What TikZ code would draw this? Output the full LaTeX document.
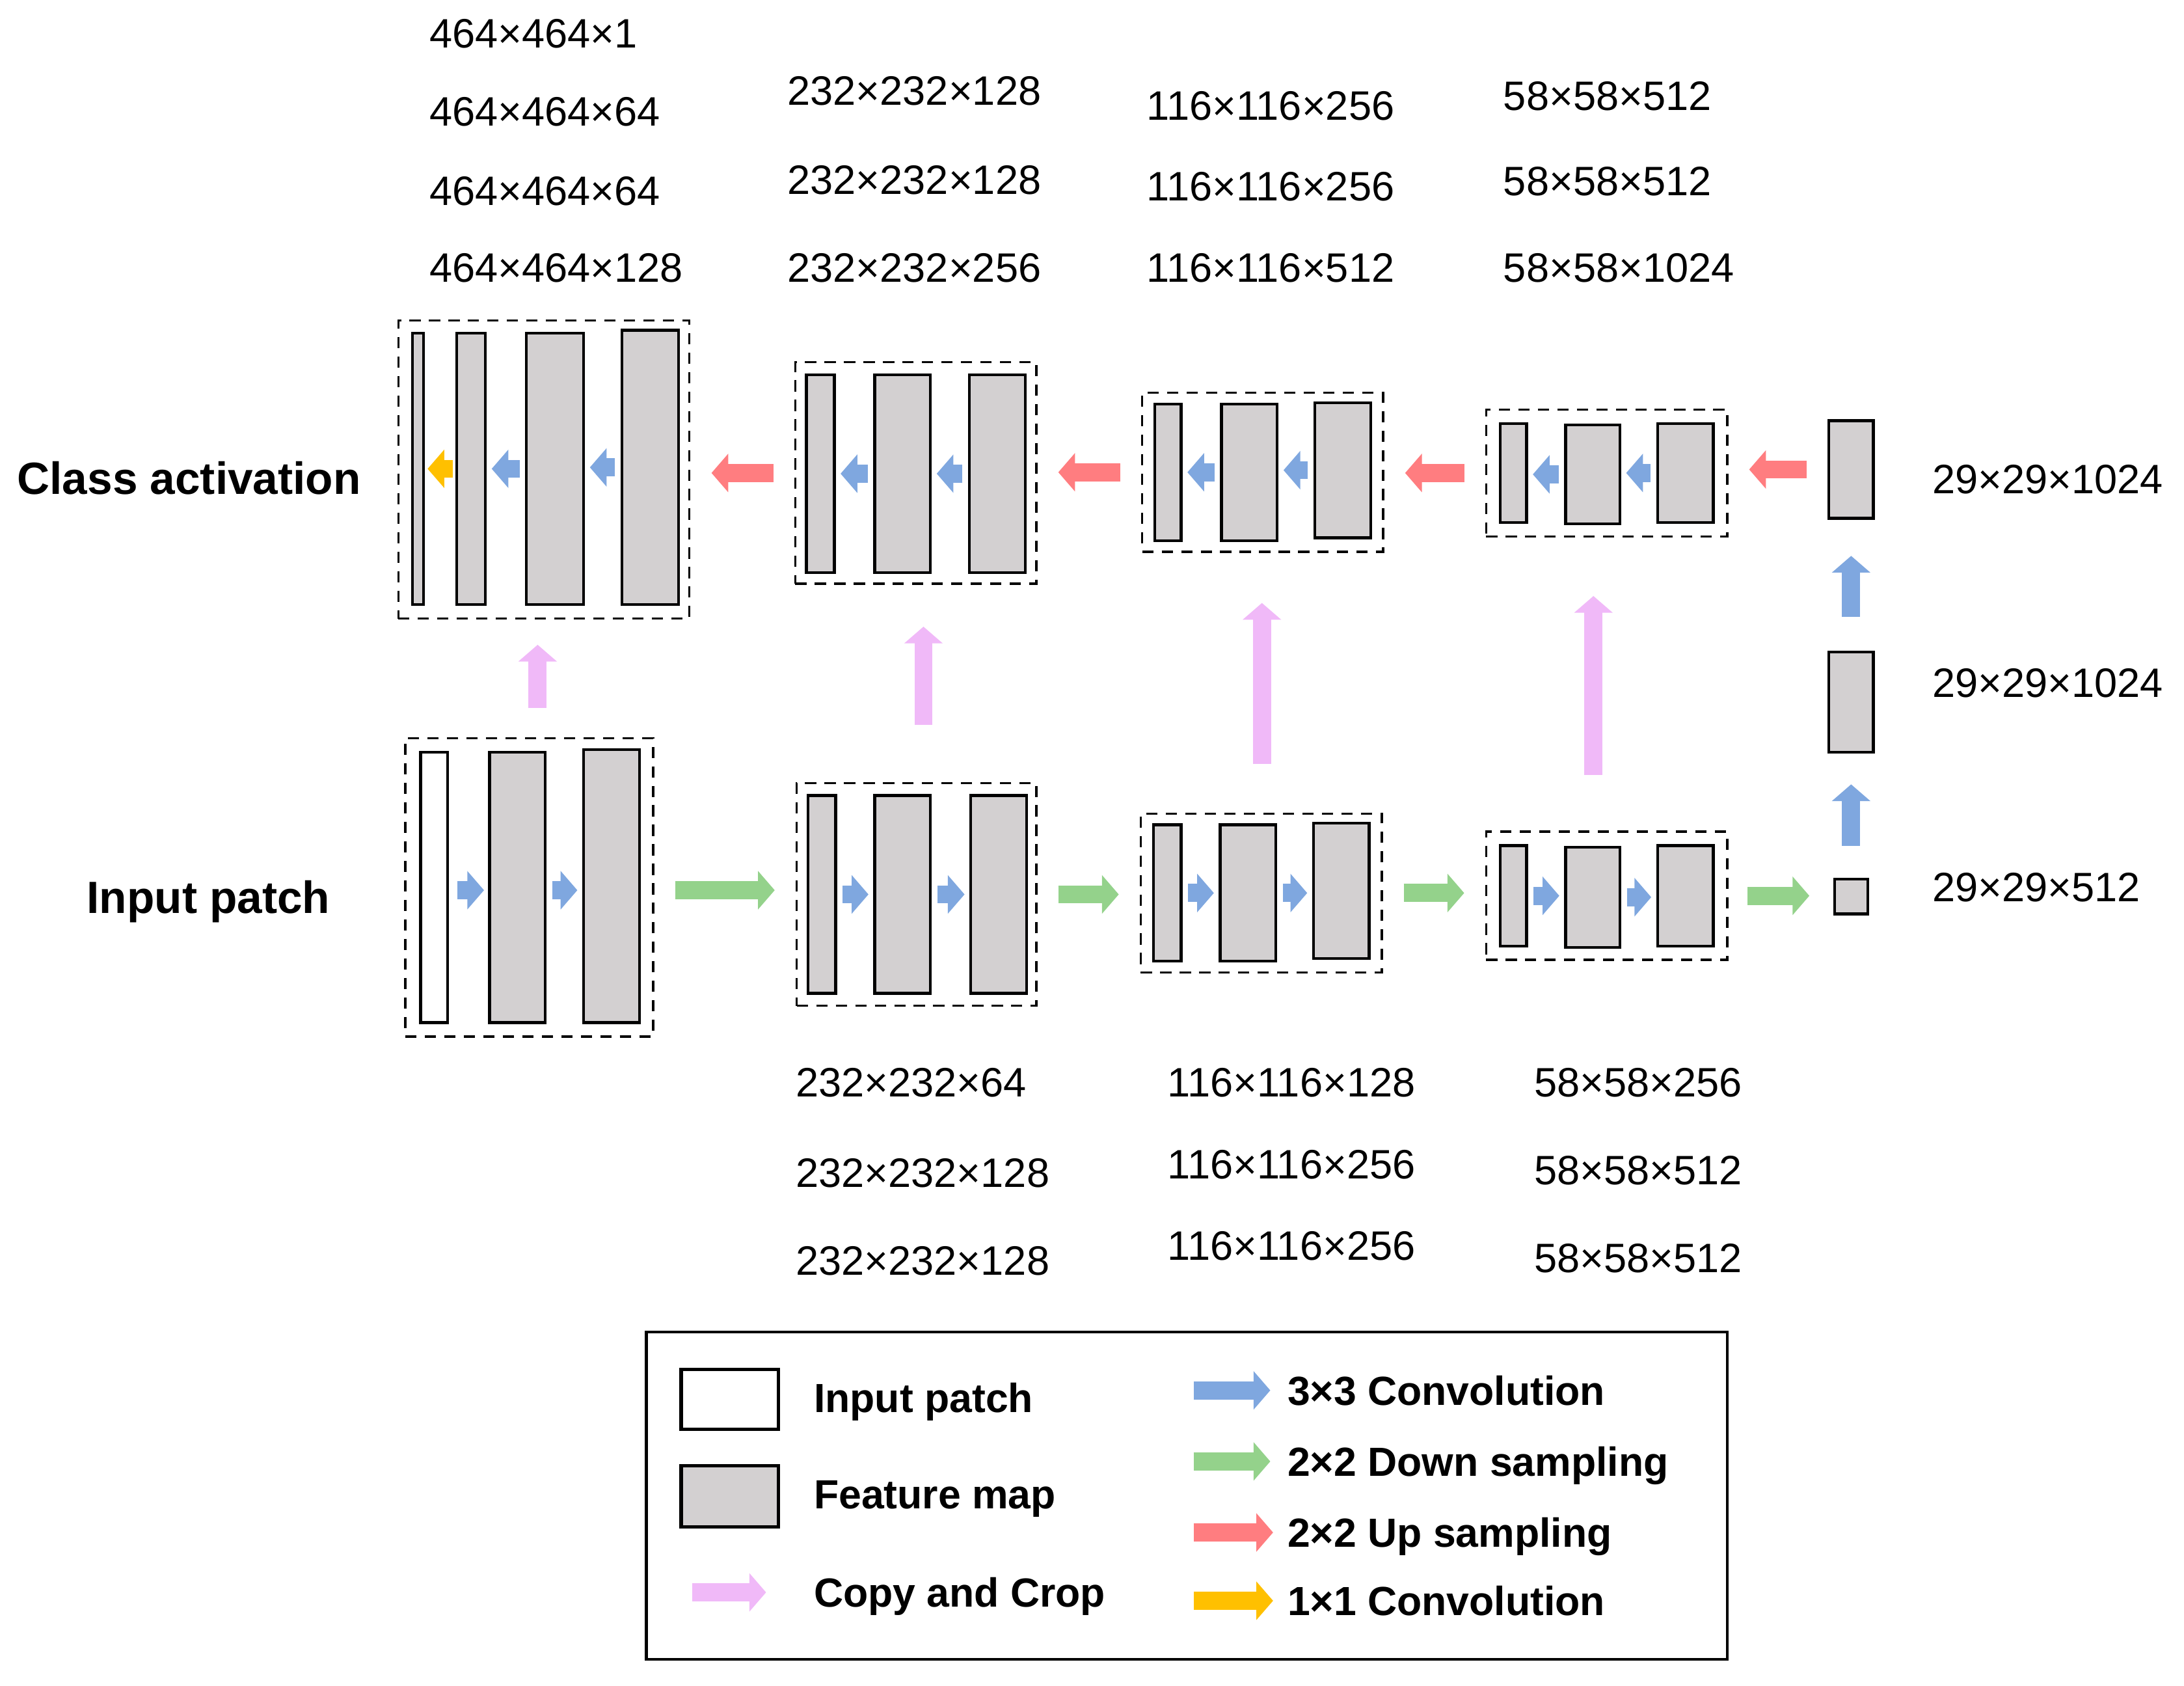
\documentclass[tikz,border=0pt]{standalone}
\usepackage{fontspec}
\setmainfont{Liberation Sans}
\usetikzlibrary{arrows.meta,fit}
\definecolor{cblue}{HTML}{7FA7DF}
\definecolor{cgreen}{HTML}{94D28B}
\definecolor{cred}{HTML}{FF7D80}
\definecolor{cyellow}{HTML}{FFC000}
\definecolor{cpink}{HTML}{F0B9F8}
\definecolor{fmgray}{HTML}{D3D0D1}
\tikzset{
  fm/.style={draw=black, line width=1pt, fill=fmgray, inner sep=0pt},
  ipatch/.style={draw=black, line width=1pt, fill=white, inner sep=0pt},
  dbox/.style={draw=black, line width=0.8pt, dash pattern=on 4pt off 3pt, inner sep=0pt},
  lgbox/.style={draw=black, line width=1pt, inner sep=0pt},
  lgrect/.style={draw=black, line width=1.2pt, inner sep=0pt},
  blk/.style={line width=6.5pt, -{Triangle[length=6pt 0 0, width=13.5pt 0 0]}},
  conv/.style={blk, draw=cblue},
  down/.style={blk, draw=cgreen},
  up/.style={blk, draw=cred},
  one/.style={blk, draw=cyellow},
  cpy/.style={blk, draw=cpink},
  inner/.style={shorten <=2pt, shorten >=1.75pt},
  between/.style={shorten <=7.5pt, shorten >=7.5pt},
  dim/.style={font=\fontsize{14.75}{16}\selectfont, anchor=west, inner sep=0pt, text depth=0pt},
  side/.style={font=\fontsize{16.2}{18}\selectfont\bfseries, anchor=west, inner sep=0pt, text depth=0pt},
  lgtext/.style={font=\fontsize{14.6}{16}\selectfont\bfseries, anchor=west, inner sep=0pt, text depth=0pt},
}
\begin{document}
\begin{tikzpicture}[x=0.5pt, y=-0.5pt]
\useasboundingbox (0,0) rectangle (1568,1210);

% ---------- dashed groups ----------
\node[dbox, fit={(286,230) (495,444)}] (T1) {};
\node[dbox, fit={(571,260) (744,419)}] (T2) {};
\node[dbox, fit={(820,282) (993,396)}] (T3) {};
\node[dbox, fit={(1067,294) (1240,385)}] (T4) {};
\node[dbox, fit={(291,530) (469,744)}] (B1) {};
\node[dbox, fit={(572,562) (744,722)}] (B2) {};
\node[dbox, fit={(819,584) (992,698)}] (B3) {};
\node[dbox, fit={(1067,597) (1240,689)}] (B4) {};

% ---------- top feature maps ----------
\node[fm, fit={(296,239) (304,434)}] (t1a) {};
\node[fm, fit={(328,239) (348.5,434)}] (t1b) {};
\node[fm, fit={(378,239) (419,434)}] (t1c) {};
\node[fm, fit={(446.5,237) (487,434)}] (t1d) {};
\node[fm, fit={(579,269) (599,411)}] (t2a) {};
\node[fm, fit={(628,269) (668,411)}] (t2b) {};
\node[fm, fit={(696,269) (736,411)}] (t2c) {};
\node[fm, fit={(829,290) (848,388)}] (t3a) {};
\node[fm, fit={(877,290) (917,388)}] (t3b) {};
\node[fm, fit={(944,289) (984,386)}] (t3c) {};
\node[fm, fit={(1077,304) (1096,375)}] (t4a) {};
\node[fm, fit={(1124,305) (1163,376)}] (t4b) {};
\node[fm, fit={(1190,304) (1230,375)}] (t4c) {};

% ---------- right column ----------
\node[fm, fit={(1313,302) (1345,372)}] (r3) {};
\node[fm, fit={(1313,468) (1345,540)}] (r2) {};
\node[fm, fit={(1317,631) (1341,656)}] (r1) {};

% ---------- bottom feature maps ----------
\node[ipatch, fit={(302,540) (321.5,734)}] (b1a) {};
\node[fm, fit={(351.5,540) (391.5,734)}] (b1b) {};
\node[fm, fit={(419,538) (459,734)}] (b1c) {};
\node[fm, fit={(580,571) (600,713)}] (b2a) {};
\node[fm, fit={(628,571) (668,713)}] (b2b) {};
\node[fm, fit={(697,571) (737,713)}] (b2c) {};
\node[fm, fit={(828,592) (848,690)}] (b3a) {};
\node[fm, fit={(876,592) (916,690)}] (b3b) {};
\node[fm, fit={(943,591) (983,688)}] (b3c) {};
\node[fm, fit={(1077,607) (1096,679)}] (b4a) {};
\node[fm, fit={(1124,608) (1163,680)}] (b4b) {};
\node[fm, fit={(1190,607) (1230,679)}] (b4c) {};

% ---------- arrows inside groups (top, leftwards) ----------
\draw[conv, inner] (t1d.west) -- (t1d.west -| t1c.east);
\draw[conv, inner] (t1c.west) -- (t1c.west -| t1b.east);
\draw[one, shorten <=1pt, shorten >=1pt] (t1b.west) -- (t1b.west -| t1a.east);
\draw[conv, inner] (t2c.west) -- (t2c.west -| t2b.east);
\draw[conv, inner] (t2b.west) -- (t2b.west -| t2a.east);
\draw[conv, inner] (t3c.west) -- (t3c.west -| t3b.east);
\draw[conv, inner] (t3b.west) -- (t3b.west -| t3a.east);
\draw[conv, inner] (t4c.west) -- (t4c.west -| t4b.east);
\draw[conv, inner] (t4b.west) -- (t4b.west -| t4a.east);

% ---------- arrows inside groups (bottom, rightwards) ----------
\draw[conv, shorten <=3pt, shorten >=1.5pt] ([yshift=-1pt]b1a.east) -- ([yshift=-1pt]b1a.east -| b1b.west);
\draw[conv, inner] ([yshift=-1pt]b1b.east) -- ([yshift=-1pt]b1b.east -| b1c.west);
\draw[conv, inner] (b2a.east) -- (b2a.east -| b2b.west);
\draw[conv, inner] (b2b.east) -- (b2b.east -| b2c.west);
\draw[conv, inner] (b3a.east) -- (b3a.east -| b3b.west);
\draw[conv, inner] (b3b.east) -- (b3b.east -| b3c.west);
\draw[conv, inner] (b4a.east) -- (b4a.east -| b4b.west);
\draw[conv, inner] (b4b.east) -- (b4b.east -| b4c.west);

% ---------- down sampling ----------
\draw[down, between] ([yshift=-1pt]B1.east) -- ([yshift=-1pt]B1.east -| B2.west);
\draw[down, between] (B2.east) -- (B2.east -| B3.west);
\draw[down, between] (B3.east) -- (B3.east -| B4.west);
\draw[down, shorten <=7pt, shorten >=8.5pt] (B4.east) -- (B4.east -| r1.west);

% ---------- right column convolutions ----------
\draw[conv, shorten <=11.5pt, shorten >=11pt] (r1.north) -- (r2.south);
\draw[conv, shorten <=12pt, shorten >=13pt] (r2.north) -- (r3.south);

% ---------- up sampling ----------
\draw[up, between] (r3.west) -- (r3.west -| T4.east);
\draw[up, between] (T4.west) -- (T4.west -| T3.east);
\draw[up, between] (T3.west) -- (T3.west -| T2.east);
\draw[up, between] (T2.west) -- (T2.west -| T1.east);

% ---------- copy and crop ----------
\coordinate (k1) at (386,0);
\coordinate (k2) at (663,0);
\coordinate (k3) at (906,0);
\coordinate (k4) at (1144,0);
\draw[cpy, shorten <=10.5pt, shorten >=9pt] (B1.north -| k1) -- (T1.south -| k1);
\draw[cpy, shorten <=20.5pt, shorten >=15pt] (B2.north -| k2) -- (T2.south -| k2);
\draw[cpy, shorten <=17.5pt, shorten >=18pt] (B3.north -| k3) -- (T3.south -| k3);
\draw[cpy, shorten <=20pt, shorten >=21pt] (B4.north -| k4) -- (T4.south -| k4);

% ---------- side labels ----------
\node[side] (lca) at (12,343) {Class activation};
\node[side] (lip) at (62,644) {Input patch};

% ---------- top dimension labels ----------
\node[dim] (d11) at (308,24) {464×464×1};
\node[dim] (d12) at (308,80) {464×464×64};
\node[dim] (d13) at (308,137) {464×464×64};
\node[dim] (d14) at (308,192) {464×464×128};
\node[dim] (d21) at (565,65) {232×232×128};
\node[dim] (d22) at (565,129) {232×232×128};
\node[dim] (d23) at (565,192) {232×232×256};
\node[dim] (d31) at (823,76) {116×116×256};
\node[dim] (d32) at (823,134) {116×116×256};
\node[dim] (d33) at (823,192) {116×116×512};
\node[dim] (d41) at (1079,69) {58×58×512};
\node[dim] (d42) at (1079,130) {58×58×512};
\node[dim] (d43) at (1079,192) {58×58×1024};

% ---------- right dimension labels ----------
\node[dim] (e1) at (1387,344) {29×29×1024};
\node[dim] (e2) at (1387,490) {29×29×1024};
\node[dim] (e3) at (1387,637) {29×29×512};

% ---------- bottom dimension labels ----------
\node[dim] (f21) at (571,777) {232×232×64};
\node[dim] (f22) at (571,842) {232×232×128};
\node[dim] (f23) at (571,905) {232×232×128};
\node[dim] (f31) at (838,777) {116×116×128};
\node[dim] (f32) at (838,836) {116×116×256};
\node[dim] (f33) at (838,894) {116×116×256};
\node[dim] (f41) at (1101,777) {58×58×256};
\node[dim] (f42) at (1101,840) {58×58×512};
\node[dim] (f43) at (1101,903) {58×58×512};

% ---------- legend ----------
\node[lgbox, fit={(464,956) (1240,1191)}] (L) {};
\node[lgrect, fill=white, fit={(489,983) (559,1026)}] (lr1) {};
\node[lgrect, fill=fmgray, fit={(489,1052) (559,1096)}] (lr2) {};
\node[lgtext] (lt1) at (584,1003) {Input patch};
\node[lgtext] (lt2) at (584,1073) {Feature map};
\node[lgtext] (lt3) at (584,1143) {Copy and Crop};
\node[lgtext] (lt4) at (924,998) {3×3 Convolution};
\node[lgtext] (lt5) at (924,1049) {2×2 Down sampling};
\node[lgtext] (lt6) at (924,1100) {2×2 Up sampling};
\node[lgtext] (lt7) at (924,1149) {1×1 Convolution};
\draw[cpy] ([xshift=-43.5pt]lt3.west) -- ([xshift=-17pt]lt3.west);
\draw[conv] ([xshift=-33.5pt]lt4.west) -- ([xshift=-6pt]lt4.west);
\draw[down] ([xshift=-33.5pt]lt5.west) -- ([xshift=-6pt]lt5.west);
\draw[up] ([xshift=-33.5pt]lt6.west) -- ([xshift=-5pt]lt6.west);
\draw[one] ([xshift=-33.5pt]lt7.west) -- ([xshift=-5pt]lt7.west);
\end{tikzpicture}
\end{document}
